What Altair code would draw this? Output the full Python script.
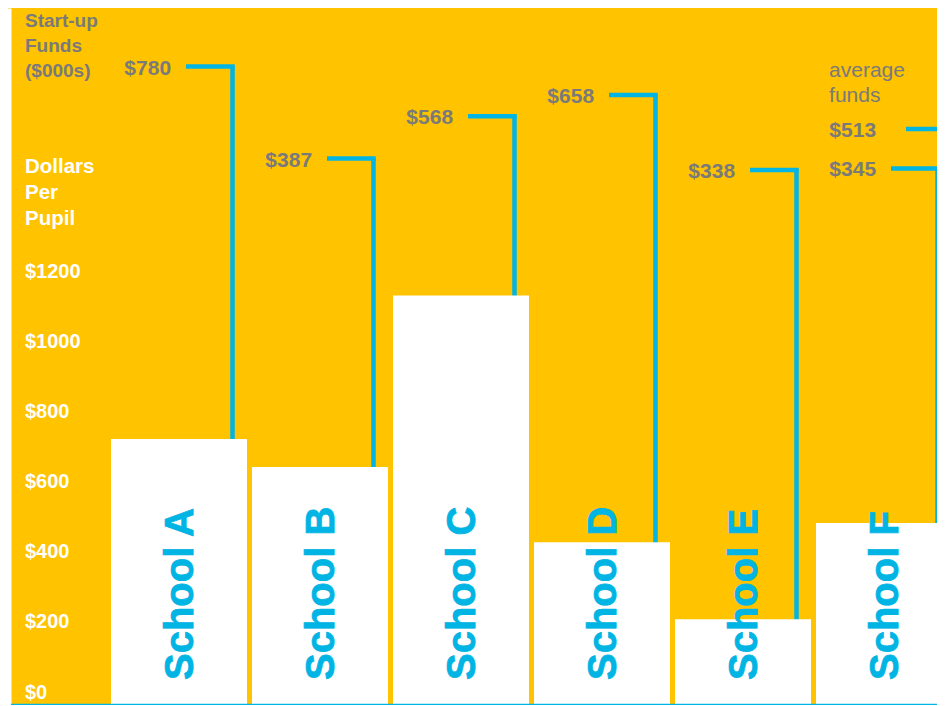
import altair as alt
import pandas as pd

# ---- data ----
schools = ["School A", "School B", "School C", "School D", "School E", "School F"]
dollars_per_pupil = [760, 680, 1170, 465, 245, 520]
startup_funds = [780, 387, 568, 658, 338, 345]
average_funds = [513]
y_ticks = [0, 200, 400, 600, 800, 1000, 1200]

BG = "#FFC300"
CYAN = "#00B4E4"
GRAY = "#7A7A7A"
FONT = "Liberation Sans"

df = pd.DataFrame({"school": schools, "pupil": dollars_per_pupil, "funds": startup_funds})
df["i"] = range(len(df))
avg_df = pd.DataFrame({"funds": average_funds, "i": [len(schools) - 1]})
one = pd.DataFrame({"a": [0]})

W, H = 929, 697
xs = alt.Scale(domain=[0, 6], range=[103, 949], nice=False, zero=False)
ys = alt.Scale(domain=[0, 1991], nice=False, zero=True)
fs = alt.Scale(domain=[-1947, 1030], nice=False, zero=False)

base = alt.Chart(df).transform_calculate(
    x0="datum.i",
    x1="datum.i + 0.9645",
    xv="datum.i + 0.8617",
    xh1="datum.i + 0.532",
    xh2="datum.i + 0.8777",
    xl="datum.i + 0.426",
    xt="datum.i + 0.496",
    label="'$' + datum.funds",
)

vert = base.mark_rule(color=CYAN, strokeWidth=4.5, clip=True).encode(
    x=alt.X("xv:Q", scale=xs, axis=None),
    y=alt.Y("funds:Q", scale=fs, axis=None),
    y2=alt.value(H),
)
horiz = base.mark_rule(color=CYAN, strokeWidth=4.5, clip=True).encode(
    x=alt.X("xh1:Q", scale=xs, axis=None),
    x2="xh2:Q",
    y=alt.Y("funds:Q", scale=fs, axis=None),
)

avg_base = alt.Chart(avg_df).transform_calculate(
    xa1="datum.i + 0.638", xa2="datum.i + 1.3", xl="datum.i + 0.426",
    label="'$' + datum.funds",
)
avg_rule = avg_base.mark_rule(color=CYAN, strokeWidth=4.5, clip=True).encode(
    x=alt.X("xa1:Q", scale=xs, axis=None),
    x2="xa2:Q",
    y=alt.Y("funds:Q", scale=fs, axis=None),
)
avg_label = avg_base.mark_text(
    align="right", baseline="alphabetic", dy=8, fontSize=21, fontWeight="bold",
    color=GRAY, font=FONT,
).encode(
    x=alt.X("xl:Q", scale=xs, axis=None),
    y=alt.Y("funds:Q", scale=fs, axis=None),
    text="label:N",
)
avg_title = avg_base.mark_text(
    align="left", baseline="alphabetic", dx=-47, dy=-52, fontSize=21,
    color=GRAY, font=FONT, lineHeight=25,
).encode(
    x=alt.X("xl:Q", scale=xs, axis=None),
    y=alt.Y("funds:Q", scale=fs, axis=None),
    text=alt.value(["average", "funds"]),
)

bars = base.mark_bar(color="white", clip=True).encode(
    x=alt.X("x0:Q", scale=xs, axis=None),
    x2="x1:Q",
    y=alt.Y(
        "pupil:Q", scale=ys,
        axis=alt.Axis(
            orient="left", title=None, domain=True, domainColor="white",
            domainWidth=4, offset=-1, ticks=False, grid=False, values=y_ticks,
            labelExpr="'$' + datum.value", labelAlign="left", labelPadding=-15.5,
            labelColor="white", labelFont=FONT, labelFontSize=20,
            labelFontWeight="bold", labelBaseline="alphabetic", labelOffset=-7,
            labelFlush=False, labelOverlap=False, labelBound=False,
        ),
    ),
    y2=alt.datum(0),
)

baseline = alt.Chart(one).mark_rule(color=CYAN, strokeWidth=1.5).encode(
    x=alt.value(3), x2=alt.value(W), y=alt.value(H - 0.5)
)

school_text = base.mark_text(
    angle=270, align="left", baseline="middle", fontSize=40, fontWeight="bold",
    color=CYAN, font=FONT, clip=True, stroke=CYAN, strokeWidth=0.8,
).encode(
    x=alt.X("xt:Q", scale=xs, axis=None),
    y=alt.value(H - 25),
    text="school:N",
)

fund_labels = base.mark_text(
    align="right", baseline="alphabetic", dy=8, fontSize=21, fontWeight="bold",
    color=GRAY, font=FONT,
).encode(
    x=alt.X("xl:Q", scale=xs, axis=None),
    y=alt.Y("funds:Q", scale=fs, axis=None),
    text="label:N",
)

title_funds = alt.Chart(one).mark_text(
    align="left", baseline="alphabetic", fontSize=19, fontWeight="bold",
    color=GRAY, font=FONT, lineHeight=25,
).encode(x=alt.value(17), y=alt.value(18.5),
         text=alt.value(["Start-up", "Funds", "($000s)"]))

title_pupil = alt.Chart(one).mark_text(
    align="left", baseline="alphabetic", fontSize=20.5, fontWeight="bold",
    color="white", font=FONT, lineHeight=26,
).encode(x=alt.value(17), y=alt.value(165),
         text=alt.value(["Dollars", "Per", "Pupil"]))

chart = alt.layer(
    vert, horiz, avg_rule, bars, baseline, school_text, fund_labels,
    avg_label, avg_title, title_funds, title_pupil,
).resolve_scale(y="independent").properties(
    width=W, height=H, background=BG, padding=0,
    autosize=alt.AutoSizeParams(type="none"),
).configure_view(stroke=None)

chart.save("out.html", embed_options={"renderer": "svg", "actions": False})
